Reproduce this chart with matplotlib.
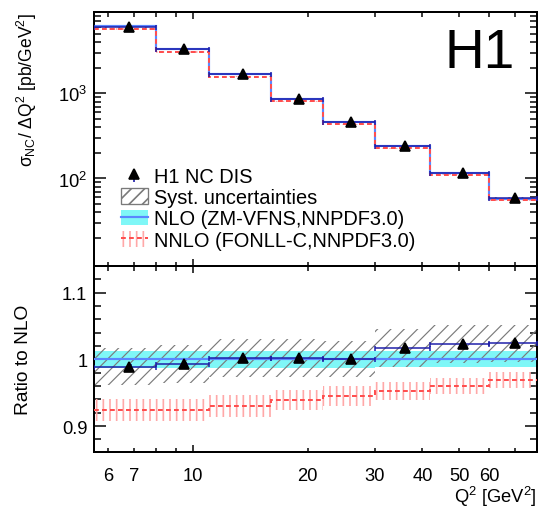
import numpy as np
import matplotlib
matplotlib.use("Agg")
import matplotlib.pyplot as plt
from matplotlib.patches import Patch
from matplotlib.lines import Line2D
from matplotlib.ticker import (FixedLocator, FixedFormatter, NullFormatter,
                               LogLocator, LogFormatterSciNotation,
                               FuncFormatter, MultipleLocator)

# ROOT-like look: Helvetica-ish font, ticks inside
plt.rcParams["font.family"] = ["Liberation Sans", "DejaVu Sans"]
plt.rcParams["mathtext.fontset"] = "custom"
plt.rcParams["mathtext.rm"] = "Liberation Sans"
plt.rcParams["mathtext.it"] = "Liberation Sans:italic"
plt.rcParams["mathtext.bf"] = "Liberation Sans:bold"
plt.rcParams["hatch.linewidth"] = 1.0

# bins in Q^2 [GeV^2] and mean Q^2 of the data points
Q2_EDGES = [5.5, 8, 11, 16, 22, 30, 42, 60, 80]
Q2_MEAN = [6.8, 9.5, 13.5, 19, 26, 36, 51, 70]

# cross sections [pb/GeV^2]
SIGMA_DATA = [6080, 3300, 1690, 860, 456, 242, 117, 58.4]
SIGMA_NLO = [6150, 3320, 1690, 857, 456, 238, 114.5, 57.0]
SIGMA_NNLO = [5680, 3070, 1570, 805, 431, 227, 110, 55.2]

# ratios to NLO
RATIO_DATA = [0.989, 0.993, 1.002, 1.002, 1.000, 1.017, 1.023, 1.024]
RATIO_STAT = [0.002, 0.002, 0.002, 0.002, 0.002, 0.002, 0.002, 0.002]
RATIO_SYST = [0.028, 0.028, 0.029, 0.028, 0.027, 0.028, 0.028, 0.028]
NLO_UNC = [0.013, 0.013, 0.013, 0.013, 0.013, 0.012, 0.012, 0.012]
RATIO_NNLO = [0.924, 0.924, 0.930, 0.939, 0.945, 0.953, 0.960, 0.969]
NNLO_UNC = [0.017, 0.017, 0.016, 0.015, 0.015, 0.0135, 0.0125, 0.0125]

X_LABELLED = [6, 7, 20, 30, 40, 50, 60]

C_CYAN = "#7ff7f7"
C_NLO = "#5a86ff"
C_DATA = "#1c1ca8"
C_RED = "#ff4f4f"
C_PINK = "#ffa8a8"
C_HATCH = "#7a7a7a"

edges = np.array(Q2_EDGES, dtype=float)
lo, hi = edges[:-1], edges[1:]
widths = hi - lo
xm = np.array(Q2_MEAN, dtype=float)


def thin_hatch(bars, lw):
    for p in bars:
        if hasattr(p, "set_hatch_linewidth"):
            p.set_hatch_linewidth(lw)


def draw_panel(ax, data, stat, syst, nlo, nlo_unc, nnlo, nnlo_unc):
    # NLO uncertainty band
    ax.bar(lo, 2 * nlo_unc, bottom=nlo - nlo_unc, width=widths, align="edge",
           color=C_CYAN, lw=0, zorder=1)
    # systematic uncertainties (hatched)
    b = ax.bar(lo, 2 * syst, bottom=data - syst, width=widths, align="edge",
               fill=False, hatch="///", edgecolor=C_HATCH, lw=0, zorder=2)
    thin_hatch(b, 0.7)
    ax.stairs(nlo, edges, baseline=None, color=C_NLO, lw=1.3, zorder=3)
    # NNLO band (vertical hatch) + dashed central value
    ax.bar(lo, 2 * nnlo_unc, bottom=nnlo - nnlo_unc, width=widths, align="edge",
           fill=False, hatch="|||", edgecolor=C_PINK, lw=0, zorder=2)
    ax.stairs(nnlo, edges, baseline=None, color=C_RED, lw=1.2,
              ls=(0, (2.4, 1.6)), zorder=3)
    # data
    ax.errorbar(xm, data, xerr=[xm - lo, hi - xm], yerr=stat, fmt="none",
                ecolor=C_DATA, elinewidth=0.9, capsize=1.5, capthick=0.9, zorder=4)
    ax.plot(xm, data, ls="none", marker="^", color="k", ms=6, zorder=5)


def style_axis(ax, xlabels):
    ax.set_xscale("log")
    ax.set_xlim(5.5, 80)
    ax.xaxis.set_major_locator(FixedLocator([10]))
    ax.xaxis.set_minor_locator(FixedLocator([6, 7, 8, 9, 20, 30, 40, 50, 60, 70, 80]))
    if xlabels:
        ax.xaxis.set_major_formatter(FixedFormatter(["10"]))
        ax.xaxis.set_minor_formatter(
            FuncFormatter(lambda v, p: "%d" % round(v) if round(v) in X_LABELLED else ""))
    else:
        ax.xaxis.set_major_formatter(NullFormatter())
        ax.xaxis.set_minor_formatter(NullFormatter())
    ax.tick_params(axis="both", which="both", direction="in", top=True, right=True,
                   width=0.9, labelsize=11)
    ax.tick_params(axis="x", which="major", length=4.2, pad=9)
    ax.tick_params(axis="x", which="minor", length=2.7, pad=9)
    ax.tick_params(axis="y", which="major", length=7.2, pad=4)
    ax.tick_params(axis="y", which="minor", length=4.2)
    for s in ax.spines.values():
        s.set_linewidth(1.2)


fig = plt.figure(figsize=(539 / 120, 509 / 120), dpi=120)
ax1 = fig.add_axes([0.1744, 0.4764, 0.822, 0.4986])
ax2 = fig.add_axes([0.1744, 0.110, 0.822, 0.3664])

# --- upper panel: cross sections
s_data = np.array(SIGMA_DATA)
s_nlo = np.array(SIGMA_NLO)
s_nnlo = np.array(SIGMA_NNLO)
r_data = np.array(RATIO_DATA)
draw_panel(ax1, s_data, s_data * np.array(RATIO_STAT) / r_data,
           s_data * np.array(RATIO_SYST) / r_data,
           s_nlo, s_nlo * np.array(NLO_UNC),
           s_nnlo, s_nnlo * np.array(NNLO_UNC) / np.array(RATIO_NNLO))
ax1.set_yscale("log")
ax1.set_ylim(9.5, 9100)
style_axis(ax1, False)
ax1.yaxis.set_major_locator(FixedLocator([1e2, 1e3]))
ax1.yaxis.set_major_formatter(LogFormatterSciNotation())
ax1.yaxis.set_minor_locator(LogLocator(base=10, subs=np.arange(2, 10), numticks=20))
ax1.yaxis.set_minor_formatter(NullFormatter())

ax1.text(0.95, 0.782, "H1", transform=ax1.transAxes, ha="right", va="baseline",
         fontsize=33)

# legend
vtick = Line2D([], [], ls="none", marker=[(0, 0), (0, -1)], markersize=9,
               markeredgecolor=C_DATA, markeredgewidth=1.0)
h_data = (vtick, Line2D([], [], ls="none", marker="^", color="k", ms=6))
h_syst = Patch(facecolor="white", edgecolor=C_HATCH, hatch="///", lw=0.8)
h_nlo = (Patch(facecolor=C_CYAN, lw=0), Line2D([], [], color=C_NLO, lw=1.3))
h_nnlo = (Patch(fill=False, hatch="|||", edgecolor=C_PINK, lw=0),
          Line2D([], [], color=C_RED, lw=1.2, ls=(0, (2.4, 1.6))))
ax1.legend([h_data, h_syst, h_nlo, h_nnlo],
           ["H1 NC DIS", "Syst. uncertainties", "NLO (ZM-VFNS,NNPDF3.0)",
            "NNLO (FONLL-C,NNPDF3.0)"],
           loc="upper left", bbox_to_anchor=(0.06, 0.39), frameon=False,
           fontsize=12, handlelength=1.35, handleheight=0.83,
           handletextpad=0.3, labelspacing=0.12, borderpad=0, borderaxespad=0)

# --- lower panel: ratio to NLO
ones = np.ones(len(RATIO_DATA))
draw_panel(ax2, r_data, np.array(RATIO_STAT), np.array(RATIO_SYST),
           ones, np.array(NLO_UNC), np.array(RATIO_NNLO), np.array(NNLO_UNC))
ax2.set_ylim(0.861, 1.141)
style_axis(ax2, True)
ax2.yaxis.set_major_locator(FixedLocator([0.9, 1.0, 1.1]))
ax2.yaxis.set_major_formatter(FuncFormatter(lambda v, p: "%g" % round(v, 2)))
ax2.yaxis.set_minor_locator(MultipleLocator(0.02))

# axis titles
fig.text(27 / 539, 1 - 13 / 509,
         r"σ$_{\rm NC}$/ ΔQ$^{\rm 2}$ [pb/GeV$^{\rm 2}$]",
         rotation=90, ha="center", va="top", fontsize=10.5)
fig.text(24 / 539, 1 - 360 / 509, "Ratio to NLO", rotation=90,
         ha="center", va="center", fontsize=11.5)
fig.text(537 / 539, 1 - 503 / 509, r"Q$^{\rm 2}$ [GeV$^{\rm 2}$]",
         ha="right", va="baseline", fontsize=11)

fig.savefig("out.png", dpi=120)
